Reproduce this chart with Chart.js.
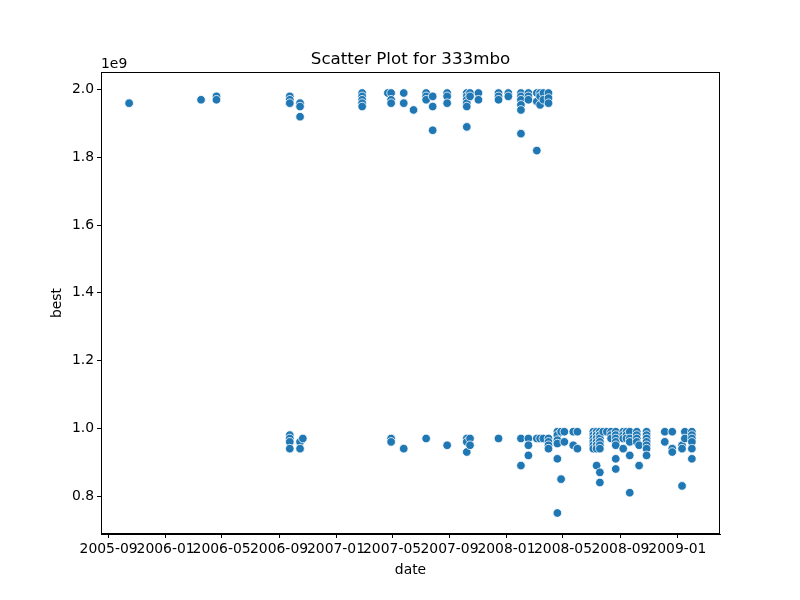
<!DOCTYPE html>
<html>
<head>
<meta charset="utf-8">
<script src="https://cdn.jsdelivr.net/npm/chart.js@4"></script>
<style>
  html, body { margin: 0; padding: 0; background: #fff; }
  #wrap { width: 800px; height: 600px; }
</style>
</head>
<body>
<div id="wrap"><canvas id="c" width="800" height="600"></canvas></div>
<script>
// ---- data (best values in units of 1e9) ----
const dates = [
  '2005-10-15','2006-03-18','2006-04-20','2006-09-24','2006-10-16','2006-10-22',
  '2007-02-26','2007-04-22','2007-04-29','2007-05-26','2007-06-16','2007-07-13',
  '2007-07-27','2007-08-27','2007-10-08','2007-10-15','2007-11-02','2007-12-15',
  '2008-01-05','2008-02-01','2008-02-17','2008-03-06','2008-03-13','2008-03-20',
  '2008-03-31','2008-04-19','2008-04-27','2008-05-04','2008-05-23','2008-06-01',
  '2008-07-05','2008-07-12','2008-07-19','2008-07-26','2008-08-03','2008-08-12',
  '2008-08-22','2008-09-07','2008-09-14','2008-09-21','2008-10-06','2008-10-11',
  '2008-10-27','2008-12-05','2008-12-21','2009-01-11','2009-01-17','2009-02-01'
];
const bestByDate = [
  [1.96],
  [1.97],
  [1.98, 1.97],
  [1.98, 1.97, 1.96, 0.98, 0.97, 0.96, 0.94],
  [1.96, 1.95, 1.92, 0.96, 0.94],
  [0.97],
  [1.99, 1.98, 1.97, 1.96, 1.95],
  [1.99],
  [1.99, 1.97, 1.96, 0.97, 0.96],
  [1.99, 1.96, 0.94],
  [1.94],
  [1.99, 1.98, 1.97, 0.97],
  [1.98, 1.95, 1.88],
  [1.99, 1.98, 1.96, 0.95],
  [1.99, 1.98, 1.97, 1.96, 1.95, 1.89, 0.97, 0.96, 0.93],
  [1.99, 1.98, 0.97, 0.95],
  [1.99, 1.97],
  [1.99, 1.98, 1.97, 0.97],
  [1.99, 1.98],
  [1.99, 1.98, 1.97, 1.955, 1.94, 1.87, 0.97, 0.89],
  [1.99, 1.98, 1.97, 0.97, 0.95, 0.92],
  [1.99, 1.965, 1.82, 0.97],
  [1.99, 1.98, 1.955, 0.97],
  [1.99, 1.97, 0.97],
  [1.99, 1.975, 1.96, 0.97, 0.96, 0.95, 0.94],
  [0.99, 0.98, 0.965, 0.955, 0.91, 0.75],
  [0.99, 0.85],
  [0.99, 0.96],
  [0.99, 0.95],
  [0.99, 0.94],
  [0.99, 0.98, 0.97, 0.96, 0.95, 0.94],
  [0.99, 0.98, 0.97, 0.96, 0.95, 0.94, 0.89],
  [0.99, 0.98, 0.97, 0.96, 0.95, 0.94, 0.87, 0.84],
  [0.99],
  [0.99],
  [0.99, 0.98, 0.97],
  [0.99, 0.98, 0.97, 0.96, 0.95, 0.91, 0.88],
  [0.99, 0.98, 0.97, 0.94],
  [0.99, 0.98, 0.97],
  [0.99, 0.97, 0.96, 0.92, 0.81],
  [0.99, 0.98, 0.97, 0.96],
  [0.95, 0.89],
  [0.99, 0.98, 0.97, 0.96, 0.95, 0.94, 0.92],
  [0.99, 0.96],
  [0.99, 0.94, 0.93],
  [0.95, 0.94, 0.83],
  [0.99, 0.97],
  [0.99, 0.98, 0.97, 0.96, 0.94, 0.91]
];
const xTickLabels = ['2005-09','2006-01','2006-05','2006-09','2007-01','2007-05',
                     '2007-09','2008-01','2008-05','2008-09','2009-01'];
const yTickValues = [0.8, 1.0, 1.2, 1.4, 1.6, 1.8, 2.0];
const yScaleFactor = 1e9;
const titleText = 'Scatter Plot for 333mbo';
const xTitle = 'date';
const yTitle = 'best';

// ---- build ----
const toMs = s => Date.parse(s + 'T00:00:00Z');
const points = [];
dates.forEach((d, i) => {
  bestByDate[i].forEach(v => points.push({ x: toMs(d), y: v * yScaleFactor }));
});
const xTicks = xTickLabels.map(s => toMs(s + '-01'));
const allX = points.map(p => p.x), allY = points.map(p => p.y);
const xMinD = Math.min(...allX), xMaxD = Math.max(...allX);
const yMinD = Math.min(...allY), yMaxD = Math.max(...allY);
const xPad = (xMaxD - xMinD) * 0.05, yPad = (yMaxD - yMinD) * 0.05;

const FONT = "'DejaVu Sans', sans-serif";
const fmtMonth = ms => { const d = new Date(ms); return d.getUTCFullYear() + '-' + String(d.getUTCMonth() + 1).padStart(2, '0'); };

const decor = {
  id: 'decor',
  afterDraw(chart) {
    const { ctx, chartArea: a } = chart;
    ctx.save();
    ctx.strokeStyle = '#000';
    ctx.lineWidth = 1;
    ctx.strokeRect(a.left + 0.5, a.top + 0.5, a.right - a.left - 1, a.bottom - a.top - 1);
    ctx.fillStyle = '#000';
    ctx.font = '16.7px ' + FONT;
    ctx.textAlign = 'center';
    ctx.textBaseline = 'alphabetic';
    ctx.fillText(titleText, (a.left + a.right) / 2, 64);
    ctx.font = '13.9px ' + FONT;
    ctx.textAlign = 'left';
    ctx.fillText('1e9', a.left, 68);
    ctx.textAlign = 'center';
    ctx.fillText(xTitle, (a.left + a.right) / 2, 574);
    ctx.translate(61, (a.top + a.bottom) / 2);
    ctx.rotate(-Math.PI / 2);
    ctx.fillText(yTitle, 0, 0);
    ctx.restore();
  }
};

new Chart(document.getElementById('c'), {
  type: 'scatter',
  data: {
    datasets: [{
      data: points,
      backgroundColor: '#1f77b4',
      borderColor: '#ffffff',
      borderWidth: 0.8,
      pointRadius: 4.3,
      pointHoverRadius: 4.3
    }]
  },
  options: {
    responsive: false,
    animation: false,
    events: [],
    layout: { padding: { left: 0, right: 80, top: 72, bottom: 0 } },
    plugins: { legend: { display: false }, title: { display: false }, tooltip: { enabled: false } },
    scales: {
      x: {
        type: 'linear',
        min: xMinD - xPad,
        max: xMaxD + xPad,
        afterBuildTicks: s => { s.ticks = xTicks.map(v => ({ value: v })); },
        afterFit: s => { s.height = 66; },
        grid: { drawOnChartArea: false, drawTicks: true, tickLength: 4, color: '#000', tickWidth: 1 },
        border: { display: true, color: '#000' },
        ticks: {
          autoSkip: false, maxRotation: 0, minRotation: 0, padding: 3,
          color: '#000', font: { family: FONT, size: 13.9 },
          callback: v => fmtMonth(v)
        }
      },
      y: {
        type: 'linear',
        min: yMinD - yPad,
        max: yMaxD + yPad,
        afterBuildTicks: s => { s.ticks = yTickValues.map(v => ({ value: v * yScaleFactor })); },
        afterFit: s => { s.width = 101; },
        grid: { drawOnChartArea: false, drawTicks: true, tickLength: 4, color: '#000', tickWidth: 1 },
        border: { display: true, color: '#000' },
        ticks: {
          padding: 3, color: '#000', font: { family: FONT, size: 13.9 },
          callback: v => (v / yScaleFactor).toFixed(1)
        }
      }
    }
  },
  plugins: [decor]
});
</script>
</body>
</html>
